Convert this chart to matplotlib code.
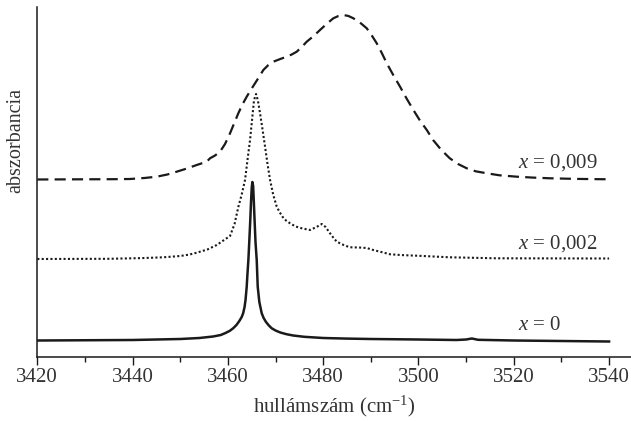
import matplotlib
matplotlib.use('Agg')
import matplotlib.pyplot as plt
from matplotlib.ticker import MultipleLocator

plt.rcParams['font.family'] = ['Liberation Serif', 'DejaVu Serif']
plt.rcParams['mathtext.fontset'] = 'custom'
plt.rcParams['mathtext.rm'] = 'Liberation Serif'
plt.rcParams['mathtext.it'] = 'Liberation Serif:italic'

# x = 0 (solid)
wn_0 = [3420, 3440, 3450, 3454, 3456.9, 3458.5, 3459.5, 3460.4, 3461.1, 3461.8, 3462.4,
        3462.9, 3463.2, 3463.5, 3463.7, 3463.95, 3464.1, 3464.3, 3464.5, 3464.7, 3464.85,
        3465.0, 3465.13, 3465.3, 3465.45, 3465.6, 3465.8, 3466.05, 3466.26, 3466.6,
        3467.1, 3467.5, 3468.0, 3468.6, 3469.2, 3470, 3471, 3472.3, 3473.7, 3476, 3480,
        3485, 3490, 3500, 3508, 3510, 3511.2, 3512.5, 3520, 3530, 3540]
abs_0 = [0.160, 0.165, 0.175, 0.185, 0.200, 0.215, 0.235, 0.257, 0.282, 0.315, 0.355,
         0.395, 0.432, 0.495, 0.565, 0.698, 0.820, 0.965, 1.160, 1.365, 1.540,
         1.685, 1.745, 1.705, 1.540, 1.365, 1.140, 0.965, 0.698, 0.545,
         0.432, 0.385, 0.345, 0.310, 0.282, 0.260, 0.240, 0.223, 0.210, 0.197, 0.185,
         0.179, 0.175, 0.170, 0.165, 0.170, 0.180, 0.167, 0.160, 0.155, 0.150]

# x = 0,002 (dotted)
wn_002 = [3420, 3435, 3442, 3446.45, 3450, 3452, 3453.46, 3455.7, 3457.66, 3459.2,
          3460.45, 3461.4, 3462.19, 3462.9, 3463.6, 3464.1, 3464.65, 3465.1, 3465.49,
          3465.91, 3466.3, 3466.75, 3467.3, 3467.8, 3468.3, 3468.85, 3469.5, 3470.25,
          3470.9, 3471.5, 3472.2, 3473.04, 3474.2, 3475.5, 3477.24, 3478.6, 3479.7,
          3480.5, 3481.44, 3482.1, 3482.85, 3483.54, 3484.5, 3485.64, 3487.5, 3489.14,
          3490.5, 3491.94, 3494.04, 3496.5, 3499.64, 3506.57, 3516.43, 3540]
abs_002 = [0.975, 0.977, 0.984, 0.992, 1.005, 1.020, 1.038, 1.070, 1.115, 1.165,
           1.205, 1.325, 1.495, 1.620, 1.765, 1.960, 2.165, 2.380, 2.565,
           2.625, 2.560, 2.432, 2.260, 2.098, 1.930, 1.765, 1.620, 1.498,
           1.440, 1.395, 1.360, 1.332, 1.300, 1.282, 1.265, 1.295, 1.325,
           1.295, 1.232, 1.190, 1.148, 1.132, 1.110, 1.092, 1.090, 1.085,
           1.065, 1.048, 1.022, 1.014, 1.008, 0.992, 0.982, 0.980]

# x = 0,009 (dashed)
wn_009 = [3420, 3430, 3436, 3439.46, 3442.5, 3445.06, 3447.3, 3449.26, 3451.4, 3453.46,
          3455.56, 3456.25, 3457.3, 3458.35, 3459.4, 3460.45, 3461.3, 3462.19, 3463.05,
          3463.95, 3464.8, 3465.7, 3466.6, 3467.44, 3468.5, 3469.54, 3471, 3472.35,
          3473.4, 3474.45, 3475.5, 3476.55, 3478, 3479.34, 3480.7, 3482.13, 3483.2,
          3484.23, 3485.3, 3486.33, 3487.7, 3489.14, 3490.2, 3491.24, 3492.3, 3493.34,
          3494.7, 3496.13, 3497.5, 3498.93, 3500.3, 3501.74, 3503.06, 3504.8, 3506.57,
          3508.3, 3510.13, 3512, 3514.33, 3517, 3520.63, 3524, 3527.62, 3533, 3540]
abs_009 = [1.770, 1.772, 1.773, 1.775, 1.785, 1.798, 1.820, 1.848, 1.880, 1.915,
           1.948, 1.982, 2.010, 2.048, 2.125, 2.232, 2.330, 2.432, 2.520,
           2.598, 2.665, 2.732, 2.800, 2.865, 2.915, 2.948, 2.975, 2.998,
           3.020, 3.048, 3.095, 3.148, 3.205, 3.265, 3.325, 3.382, 3.405,
           3.415, 3.405, 3.382, 3.340, 3.282, 3.210, 3.132, 3.035, 2.932,
           2.815, 2.698, 2.580, 2.465, 2.360, 2.265, 2.165, 2.065, 1.982,
           1.925, 1.882, 1.852, 1.832, 1.812, 1.798, 1.789, 1.782, 1.776, 1.772]

labels = ['$x$ = 0,009', '$x$ = 0,002', '$x$ = 0']
label_y = [1.938, 1.125, 0.315]

fig = plt.figure(figsize=(6.31, 4.21), dpi=100)
ax = fig.add_axes([0.0591, 0.1532, 0.9409, 0.8295])

ink = '#1a1a1a'
ax.plot(wn_009, abs_009, color=ink, lw=1.6, ls=(0, (5, 2.8)))
ax.plot(wn_002, abs_002, color=ink, lw=1.5, ls=(0, (1, 1.1)))
ax.plot(wn_0, abs_0, color=ink, lw=1.8)

for lab, yy in zip(labels, label_y):
    ax.text(3520.9, yy, lab, fontsize=15, color='#333333', va='center', ha='left')

ax.set_xlim(3420, 3544.6)
ax.set_ylim(0, 3.492)
ax.xaxis.set_major_locator(MultipleLocator(20))
ax.xaxis.set_minor_locator(MultipleLocator(10))
ax.set_xticks(range(3420, 3541, 20))
ax.tick_params(axis='x', which='major', direction='out', length=5.5, width=1,
               labelsize=15, pad=3, colors=ink, labelcolor='#333333')
ax.tick_params(axis='x', which='minor', direction='out', length=3.3, width=1, colors=ink)
ax.set_yticks([])

for s in ['top', 'right']:
    ax.spines[s].set_visible(False)
for s in ['left', 'bottom']:
    ax.spines[s].set_linewidth(1.1)
    ax.spines[s].set_color(ink)

ax.set_xlabel('hullámszám (cm$^{-1}$)', fontsize=15, color='#333333', labelpad=4.5)
ax.set_ylabel('abszorbancia', fontsize=14.5, color='#333333')
ax.yaxis.set_label_coords(-0.020, 0.619)

fig.savefig('out.png', dpi=100)
